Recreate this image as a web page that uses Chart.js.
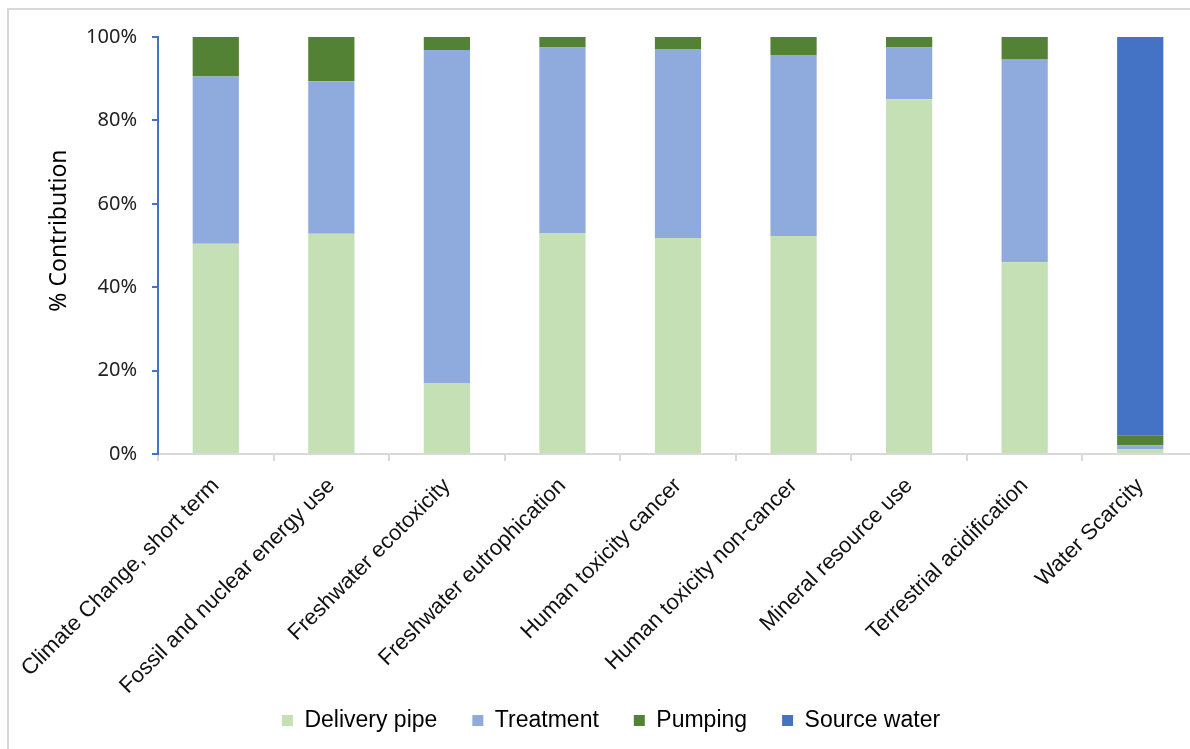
<!DOCTYPE html>
<html>
<head>
<meta charset="utf-8">
<script src="https://cdn.jsdelivr.net/npm/chart.js@4"></script>
<style>
  html, body { margin: 0; padding: 0; background: #fff; }
  #wrap { position: relative; width: 1190px; height: 749px; overflow: hidden; }
  #frame {
    position: absolute; left: 7px; top: 8px; width: 1300px; height: 900px;
    border-top: 2px solid #d9d9d9; border-left: 2px solid #d9d9d9;
    pointer-events: none;
  }
  canvas { position: absolute; left: 0; top: 0; }
</style>
</head>
<body>
<div id="wrap">
  <div id="frame"></div>
  <canvas id="chart" width="1230" height="770"></canvas>
</div>
<script>
  // Categories (impact categories)
  const categories = [
    'Climate Change, short term',
    'Fossil and nuclear energy use',
    'Freshwater ecotoxicity',
    'Freshwater eutrophication',
    'Human toxicity cancer',
    'Human toxicity non-cancer',
    'Mineral resource use',
    'Terrestrial acidification',
    'Water Scarcity'
  ];

  // % contribution per life-cycle stage
  const deliveryPipe = [50.4, 52.8, 17.0, 53.0, 51.8, 52.3, 85.1, 46.0, 1.2];
  const treatment    = [40.1, 36.6, 79.9, 44.5, 45.3, 43.4, 12.4, 48.7, 0.9];
  const pumping      = [9.5, 10.6, 3.1, 2.5, 2.9, 4.3, 2.5, 5.3, 2.4];
  const sourceWater  = [0, 0, 0, 0, 0, 0, 0, 0, 95.5];

  const yTicks = [0, 20, 40, 60, 80, 100];

  const labelFont = 'Liberation Sans, Arial, sans-serif';
  const tickFont = 'Noto Sans, Open Sans, sans-serif';

  function series(label, data, color) {
    return {
      label,
      data,
      backgroundColor: color,
      borderWidth: 0,
      barPercentage: 0.4,
      categoryPercentage: 1.0
    };
  }

  const ctx = document.getElementById('chart').getContext('2d');
  new Chart(ctx, {
    type: 'bar',
    data: {
      labels: categories,
      datasets: [
        series('Delivery pipe', deliveryPipe, '#C5E0B4'),
        series('Treatment', treatment, '#8FAADC'),
        series('Pumping', pumping, '#548235'),
        series('Source water', sourceWater, '#4472C4')
      ]
    },
    options: {
      responsive: false,
      animation: false,
      // canvas is wider/taller than the window: the chart runs off the right edge like the original
      layout: { padding: { top: 37, right: 32, bottom: 28, left: 24 } },
      plugins: {
        tooltip: { enabled: false },
        legend: {
          position: 'bottom',
          labels: {
            boxWidth: 11,
            boxHeight: 11,
            padding: 35,
            color: '#000',
            font: { family: labelFont, size: 23 }
          }
        }
      },
      scales: {
        x: {
          stacked: true,
          afterFit: (axis) => {
            axis.height = 220;
            // long rotated labels run down beside the legend, so don't clip them to the axis box
            axis._computeLabelArea = () => null;
          },
          border: { color: '#d9d9d9', width: 2 },
          grid: {
            offset: true,
            drawOnChartArea: false,
            color: '#d9d9d9',
            lineWidth: 2,
            tickLength: 7
          },
          ticks: {
            minRotation: 45,
            maxRotation: 45,
            autoSkip: false,
            padding: 12,
            color: '#111',
            font: { family: labelFont, size: 22 }
          }
        },
        y: {
          stacked: true,
          min: 0,
          max: 100,
          afterFit: (axis) => { axis.width = 134; },
          afterBuildTicks: (axis) => {
            axis.ticks = yTicks.map((v) => ({ value: v }));
          },
          border: { color: '#4472C4', width: 2 },
          grid: {
            drawOnChartArea: false,
            color: '#4472C4',
            lineWidth: 2,
            tickLength: 6
          },
          ticks: {
            padding: 15,
            color: '#222',
            font: { family: tickFont, size: 20 },
            callback: (v) => v + '%'
          },
          title: {
            display: true,
            text: '     % Contribution',
            color: '#000',
            padding: { top: 22, bottom: 0 },
            font: { family: tickFont, size: 23 }
          }
        }
      }
    }
  });
</script>
</body>
</html>
